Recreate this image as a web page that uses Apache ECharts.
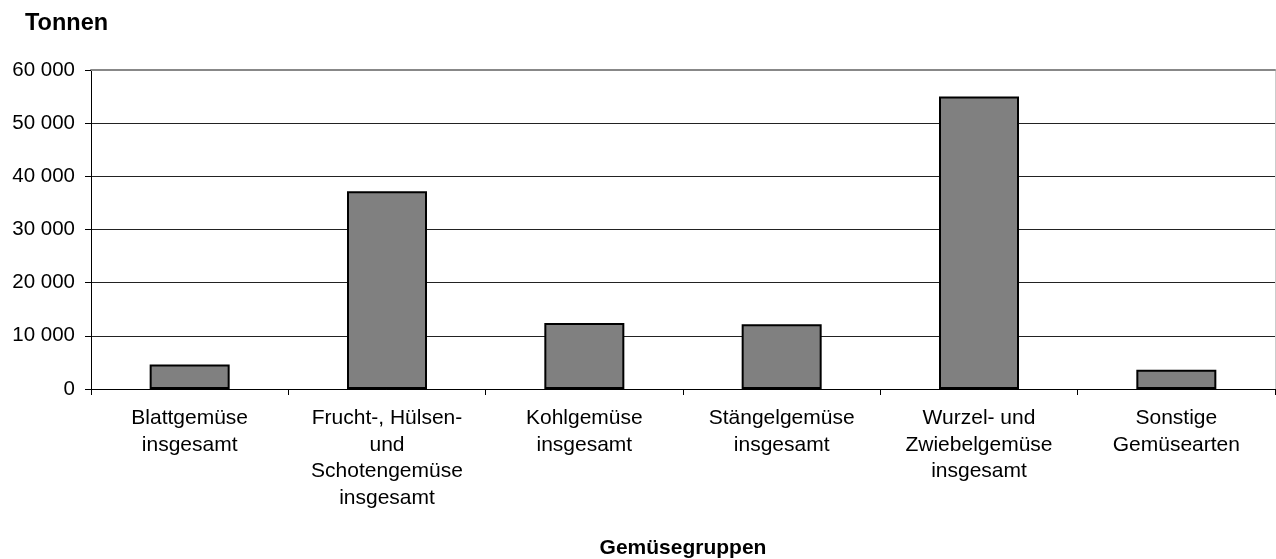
<!DOCTYPE html>
<html>
<head>
<meta charset="utf-8">
<script src="https://cdn.jsdelivr.net/npm/echarts@6/dist/echarts.min.js"></script>
<style>html,body{margin:0;padding:0;background:#fff}#c{width:1276px;height:559px}</style>
</head>
<body>
<div id="c"></div>
<script>
const categories = [
  "Blattgemüse\ninsgesamt",
  "Frucht-, Hülsen-\nund\nSchotengemüse\ninsgesamt",
  "Kohlgemüse\ninsgesamt",
  "Stängelgemüse\ninsgesamt",
  "Wurzel- und\nZwiebelgemüse\ninsgesamt",
  "Sonstige\nGemüsearten"
];
const values = [4600, 37200, 12400, 12200, 55000, 3600];
const yTicks = [0, 10000, 20000, 30000, 40000, 50000, 60000];
const yTitle = "Tonnen";
const xTitle = "Gemüsegruppen";

const FONT = '"Liberation Sans", Arial, sans-serif';
const fmt = v => String(v).replace(/\B(?=(\d{3})+(?!\d))/g, ' ');

const chart = echarts.init(document.getElementById('c'), null, {renderer: 'canvas'});
chart.setOption({
  animation: false,
  backgroundColor: '#fff',
  title: {
    text: yTitle, left: 20, top: 7,
    textStyle: {fontFamily: FONT, fontWeight: 'bold', fontSize: 23.5, color: '#000'}
  },
  grid: {left: 91, right: 1, top: 70, bottom: 170, outerBoundsMode: 'none', containLabel: false},
  xAxis: [{
    type: 'category',
    data: categories,
    name: xTitle,
    nameLocation: 'middle',
    nameGap: 149,
    nameTextStyle: {fontFamily: FONT, fontWeight: 'bold', fontSize: 21, color: '#000'},
    axisLine: {lineStyle: {color: '#000', width: 1}},
    axisTick: {show: true, length: 6, lineStyle: {color: '#000'}},
    axisLabel: {interval: 0, margin: 16, fontFamily: FONT, fontSize: 21, lineHeight: 26.5, color: '#000', align: 'center'}
  }, {
    type: 'category',
    position: 'top',
    data: categories,
    axisLine: {onZero: false, lineStyle: {color: '#888', width: 2}},
    axisTick: {show: false},
    axisLabel: {show: false}
  }],
  yAxis: [{
    type: 'value',
    min: yTicks[0],
    max: yTicks[yTicks.length - 1],
    interval: 10000,
    axisLine: {show: true, lineStyle: {color: '#000', width: 1}},
    axisTick: {show: true, length: 6, lineStyle: {color: '#000'}},
    axisLabel: {margin: 16, fontFamily: FONT, fontSize: 20.5, color: '#000', formatter: fmt},
    splitLine: {show: true, showMaxLine: false, lineStyle: {color: '#222', width: 1}}
  }, {
    type: 'value',
    position: 'right',
    min: yTicks[0],
    max: yTicks[yTicks.length - 1],
    interval: 10000,
    axisLine: {show: true, onZero: false, lineStyle: {color: '#ccc', width: 1}},
    axisTick: {show: false},
    axisLabel: {show: false},
    splitLine: {show: false}
  }],
  series: [{
    type: 'bar',
    data: values,
    barWidth: 80,
    itemStyle: {color: '#808080', borderColor: '#000', borderWidth: 2}
  }]
});
</script>
</body>
</html>
